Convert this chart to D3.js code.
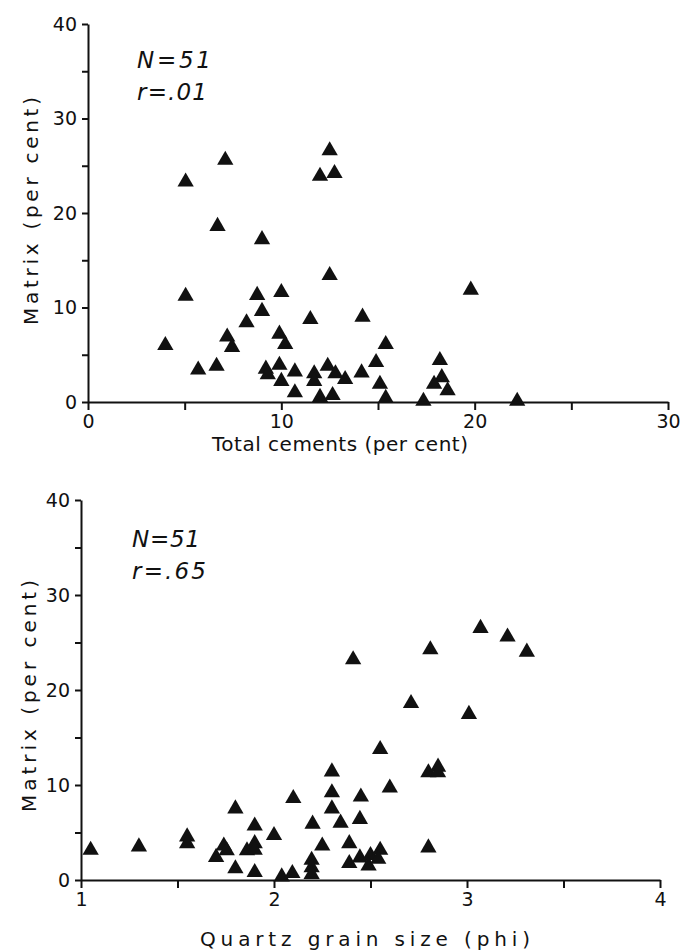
<!DOCTYPE html>
<html>
<head>
<meta charset="utf-8">
<script src="https://cdn.jsdelivr.net/npm/d3@7"></script>
<style>
  body { margin: 0; background: #fff; }
  svg text { font-family: "DejaVu Sans", sans-serif; fill: #111; }
  .axis path, .axis line { stroke: #111; stroke-width: 2; }
  .axis text { font-size: 19px; }
</style>
</head>
<body>
<div id="chart"></div>
<script>
// Top panel: total cements vs matrix
var cementX = [4.0, 5.05, 5.7, 6.7, 6.65, 7.2, 7.45, 8.2, 8.75, 9.0, 9.0, 9.2, 9.3, 9.9, 10.0, 10.0, 9.9, 10.2,
  10.7, 10.7, 11.5, 11.7, 11.7, 12.0, 12.5, 12.4, 12.65, 12.8, 5.05, 7.1, 12.5, 12.0, 12.75,
  19.8, 14.2, 15.4, 14.9, 13.3, 14.15, 15.1, 15.4, 17.35, 18.2, 18.3, 17.9, 18.6, 22.2];
var cementY = [6.0, 11.2, 3.4, 18.6, 3.8, 6.9, 5.8, 8.4, 11.3, 9.6, 17.2, 3.5, 2.9, 3.9, 2.2, 11.6, 7.2, 6.1,
  3.2, 1.0, 8.75, 3.0, 2.2, 0.5, 13.4, 3.8, 0.7, 3.0, 23.3, 25.6, 26.6, 23.9, 24.2,
  11.85, 9.0, 6.1, 4.2, 2.4, 3.1, 1.9, 0.4, 0.1, 4.4, 2.6, 1.9, 1.2, 0.1];

// Bottom panel: quartz grain size vs matrix
var phiX = [1.05, 1.30, 1.55, 1.55, 1.70, 1.74, 1.755, 1.80, 1.80, 1.86, 1.90, 1.90, 1.90, 1.90, 2.0, 2.04, 2.095,
  2.10, 2.195, 2.195, 2.195, 2.20, 2.25, 2.30, 2.30, 2.30,
  2.41, 2.81, 3.07, 3.21, 3.31, 2.71, 3.01, 2.55, 2.80, 2.85, 2.85, 2.60, 2.45, 2.445, 2.345, 2.39, 2.80,
  2.39, 2.445, 2.50, 2.55, 2.49, 2.54];
var phiY = [3.15, 3.5, 4.55, 3.85, 2.4, 3.6, 3.1, 7.5, 1.2, 3.1, 5.7, 3.85, 3.15, 0.8, 4.7, 0.35, 0.7,
  8.6, 2.1, 1.3, 0.6, 5.9, 3.6, 11.4, 9.2, 7.5,
  23.2, 24.25, 26.5, 25.6, 24.0, 18.6, 17.45, 13.75, 11.3, 11.9, 11.3, 9.7, 8.75, 6.4, 6.0, 3.85, 3.4,
  1.75, 2.35, 2.6, 3.15, 1.5, 2.2];

var yTicks = [0, 5, 10, 15, 20, 25, 30, 35, 40];
var cementTicks = [0, 5, 10, 15, 20, 25, 30];
var phiTicks = [1, 1.5, 2, 2.5, 3, 3.5, 4];

var svg = d3.select("#chart").append("svg")
  .attr("width", 681)
  .attr("height", 952);

var tri = d3.symbol().type(d3.symbolTriangle).size(115);

function drawPanel(p) {
  var x = d3.scaleLinear().domain(p.xDomain).range(p.xRange);
  var y = d3.scaleLinear().domain([0, 40]).range(p.yRange);
  var g = svg.append("g");

  // points
  g.selectAll("path.pt")
    .data(d3.zip(p.xs, p.ys))
    .enter()
    .append("path")
    .attr("class", "pt")
    .attr("d", tri)
    .attr("fill", "#111")
    .attr("transform", d => `translate(${x(d[0])},${y(d[1])})`);

  // axes
  var xAxis = d3.axisBottom(x).tickValues(p.xTicks).tickSize(8).tickSizeOuter(0)
    .tickFormat(d => Number.isInteger(d) && (p.xMajor(d)) ? d : "");
  g.append("g").attr("class", "axis")
    .attr("transform", `translate(0,${p.yRange[0]})`)
    .call(xAxis)
    .call(s => s.selectAll("text").attr("dy", "0.8em"));

  var yAxis = d3.axisLeft(y).tickValues(yTicks).tickSize(6).tickSizeOuter(0)
    .tickFormat(d => d % 10 === 0 ? d : "");
  g.append("g").attr("class", "axis")
    .attr("transform", `translate(${p.xRange[0]},0)`)
    .call(yAxis)
    .call(s => s.selectAll("text").attr("x", -11));

  // titles
  g.append("text")
    .attr("x", p.xTitle[0]).attr("y", p.xTitle[1])
    .attr("textLength", p.xTitle[2]).attr("lengthAdjust", "spacing")
    .style("font-size", "20px")
    .text(p.xLabel);

  g.append("text")
    .attr("transform", `translate(${p.yTitle[0]},${p.yTitle[1]}) rotate(-90)`)
    .attr("textLength", p.yTitle[2]).attr("lengthAdjust", "spacing")
    .style("font-size", "20px")
    .text("Matrix (per cent)");

  // annotations
  g.append("text")
    .attr("x", p.note[0]).attr("y", p.note[1])
    .attr("textLength", p.note[2]).attr("lengthAdjust", "spacing")
    .style("font-size", "23px").style("font-style", "italic")
    .text("N=51");
  g.append("text")
    .attr("x", p.note[0]).attr("y", p.note[1] + 32)
    .attr("textLength", p.note[3]).attr("lengthAdjust", "spacing")
    .style("font-size", "23px").style("font-style", "italic")
    .text(p.rText);
}

drawPanel({
  xs: cementX, ys: cementY,
  xDomain: [0, 30], xRange: [88, 668], yRange: [402, 24],
  xTicks: cementTicks, xMajor: d => d % 10 === 0,
  xLabel: "Total cements (per cent)", xTitle: [212, 451, 256],
  yTitle: [38, 325, 228],
  note: [137, 68, 74, 70], rText: "r=.01"
});

drawPanel({
  xs: phiX, ys: phiY,
  xDomain: [1, 4], xRange: [81, 660], yRange: [880, 500],
  xTicks: phiTicks, xMajor: d => true,
  xLabel: "Quartz grain size (phi)", xTitle: [200, 946, 330],
  yTitle: [36, 812, 232],
  note: [132, 547, 68, 74], rText: "r=.65"
});
</script>
</body>
</html>
